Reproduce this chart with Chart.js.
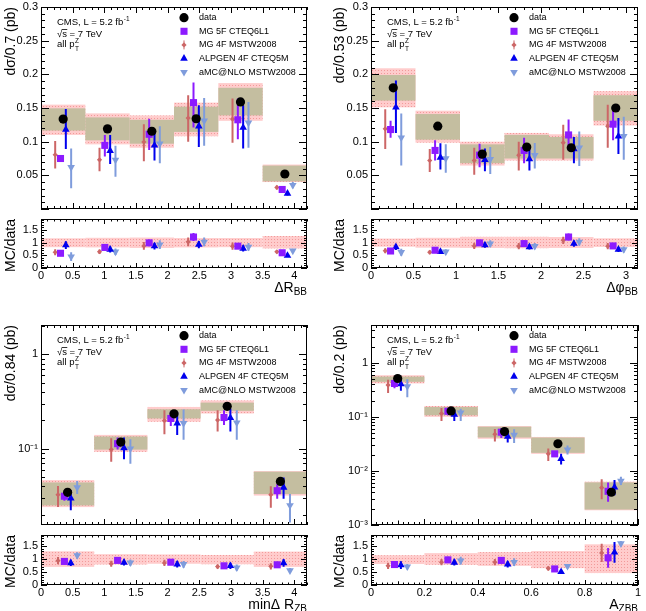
<!DOCTYPE html>
<html>
<head>
<meta charset="utf-8">
<title>Z+bb angular correlations</title>
<script src="https://cdn.jsdelivr.net/npm/chart.js@4.4.1/dist/chart.umd.min.js"></script>
<style>
  body { margin: 0; background: #fff; }
  #wrap { position: relative; width: 646px; height: 611px; overflow: hidden; background: #fff; }
  #wrap canvas { position: absolute; }
</style>
</head>
<body>
<div id="wrap"></div>
<script>
// ---------- ΔR_BB ----------
const dRbbEdges = [0, 0.7, 1.4, 2.1, 2.8, 3.5, 4.2];
const dRbbData  = [0.1335, 0.119, 0.1155, 0.134, 0.159, 0.052];
const dRbbStat  = [[0.1165, 0.1495], [0.102, 0.136], [0.097, 0.1325], [0.1145, 0.152], [0.139, 0.18], [0.041, 0.0645]];
const dRbbTot   = [[0.110, 0.155], [0.096, 0.142], [0.091, 0.139], [0.108, 0.158], [0.131, 0.187], [0.040, 0.066]];
// MC: [value, low, high]
const dRbbMg5f   = [[0.075, 0.071, 0.079], [0.0945, 0.078, 0.11], [0.111, 0.0875, 0.134], [0.158, 0.121, 0.188], [0.1325, 0.1035, 0.164], [0.029, 0.027, 0.031]];
const dRbbMg4f   = [[0.0806, 0.06, 0.101], [0.073, 0.056, 0.091], [0.0995, 0.071, 0.126], [0.135, 0.1, 0.169], [0.1335, 0.0985, 0.164], [0.032, 0.029, 0.035]];
const dRbbAlpgen = [[0.118, 0.089, 0.1485], [0.0865, 0.067, 0.11], [0.0945, 0.072, 0.113], [0.123, 0.092, 0.154], [0.121, 0.09, 0.154], [0.023, 0.02, 0.026]];
const dRbbAmc    = [[0.062, 0.031, 0.09], [0.073, 0.048, 0.094], [0.097, 0.068, 0.123], [0.131, 0.094, 0.165], [0.128, 0.091, 0.159], [0.0355, 0.031, 0.04]];
// ratio MC/data: [value, half error]
const dRbbRMg5f   = [[0.58, 0.05], [0.81, 0.09], [0.99, 0.13], [1.22, 0.16], [0.86, 0.11], [0.60, 0.05]];
const dRbbRMg4f   = [[0.62, 0.12], [0.64, 0.09], [0.87, 0.15], [1.03, 0.17], [0.86, 0.14], [0.64, 0.07]];
const dRbbRAlpgen = [[0.90, 0.15], [0.73, 0.12], [0.86, 0.13], [0.92, 0.14], [0.77, 0.12], [0.49, 0.06]];
const dRbbRAmc    = [[0.45, 0.17], [0.64, 0.13], [0.92, 0.17], [1.03, 0.17], [0.83, 0.15], [0.68, 0.07]];
const dRbbRBand   = [[0.82, 1.17], [0.81, 1.19], [0.79, 1.2], [0.81, 1.18], [0.82, 1.18], [0.77, 1.26]];

// ---------- Δφ_BB ----------
const dPhiEdges = [0, 0.5236, 1.0472, 1.5708, 2.0944, 2.618, 3.1416];
const dPhiData  = [0.180, 0.123, 0.0815, 0.092, 0.091, 0.150];
const dPhiStat  = [[0.161, 0.199], [0.103, 0.141], [0.068, 0.096], [0.075, 0.110], [0.075, 0.107], [0.131, 0.169]];
const dPhiTot   = [[0.151, 0.209], [0.0985, 0.146], [0.0645, 0.1], [0.072, 0.113], [0.072, 0.111], [0.124, 0.175]];
const dPhiMg5f   = [[0.118, 0.106, 0.131], [0.087, 0.072, 0.102], [0.080, 0.062, 0.097], [0.087, 0.068, 0.106], [0.11, 0.087, 0.133], [0.126, 0.102, 0.147]];
const dPhiMg4f   = [[0.119, 0.089, 0.148], [0.072, 0.055, 0.089], [0.072, 0.051, 0.091], [0.080, 0.057, 0.1], [0.0985, 0.073, 0.125], [0.123, 0.091, 0.155]];
const dPhiAlpgen = [[0.151, 0.113, 0.191], [0.0765, 0.0585, 0.0975], [0.073, 0.056, 0.09], [0.074, 0.057, 0.094], [0.089, 0.068, 0.107], [0.108, 0.0815, 0.135]];
const dPhiAmc    = [[0.106, 0.0645, 0.142], [0.075, 0.054, 0.096], [0.074, 0.052, 0.092], [0.080, 0.06, 0.098], [0.091, 0.064, 0.115], [0.108, 0.073, 0.137]];
const dPhiRMg5f   = [[0.67, 0.05], [0.70, 0.06], [0.99, 0.12], [0.96, 0.12], [1.22, 0.14], [0.87, 0.08]];
const dPhiRMg4f   = [[0.68, 0.1], [0.62, 0.08], [0.87, 0.12], [0.86, 0.12], [1.09, 0.14], [0.86, 0.12]];
const dPhiRAlpgen = [[0.83, 0.12], [0.64, 0.08], [0.90, 0.1], [0.83, 0.1], [0.96, 0.12], [0.73, 0.1]];
const dPhiRAmc    = [[0.62, 0.14], [0.64, 0.1], [0.96, 0.13], [0.86, 0.12], [1.03, 0.14], [0.73, 0.12]];
const dPhiRBand   = [[0.84, 1.16], [0.80, 1.19], [0.79, 1.23], [0.78, 1.23], [0.79, 1.22], [0.83, 1.17]];

// ---------- minΔR_ZB ----------
const minDrEdges = [0, 0.84, 1.68, 2.52, 3.36, 4.2];
const minDrData  = [0.0344, 0.1174, 0.234, 0.281, 0.0449];
const minDrStat  = [[0.025, 0.0438], [0.0977, 0.1346], [0.209, 0.262], [0.252, 0.308], [0.033, 0.057]];
const minDrTot   = [[0.024, 0.0464], [0.0925, 0.140], [0.193, 0.277], [0.236, 0.325], [0.0318, 0.0578]];
const minDrMg5f   = [[0.0313, 0.028, 0.0354], [0.113, 0.098, 0.131], [0.209, 0.174, 0.25], [0.214, 0.178, 0.256], [0.0358, 0.0294, 0.042]];
const minDrMg4f   = [[0.0325, 0.024, 0.0403], [0.0977, 0.0727, 0.129], [0.198, 0.142, 0.256], [0.201, 0.152, 0.256], [0.0325, 0.0236, 0.040]];
const minDrAlpgen = [[0.0298, 0.0222, 0.0364], [0.1017, 0.077, 0.131], [0.186, 0.14, 0.246], [0.212, 0.152, 0.266], [0.0388, 0.0294, 0.0493]];
const minDrAmc    = [[0.0388, 0.033, 0.0455], [0.1, 0.0692, 0.126], [0.186, 0.124, 0.26], [0.189, 0.124, 0.256], [0.025, 0.0165, 0.033]];
const minDrRMg5f   = [[0.91, 0.08], [0.95, 0.08], [0.88, 0.1], [0.74, 0.06], [0.78, 0.12]];
const minDrRMg4f   = [[0.94, 0.14], [0.82, 0.12], [0.85, 0.12], [0.71, 0.08], [0.72, 0.12]];
const minDrRAlpgen = [[0.85, 0.12], [0.87, 0.12], [0.80, 0.12], [0.74, 0.12], [0.85, 0.15]];
const minDrRAmc    = [[1.14, 0.12], [0.86, 0.12], [0.80, 0.13], [0.67, 0.12], [0.56, 0.1]];
const minDrRBand   = [[0.70, 1.30], [0.79, 1.19], [0.82, 1.18], [0.80, 1.16], [0.70, 1.29]];

// ---------- A_ZBB ----------
const aZbbEdges = [0, 0.2, 0.4, 0.6, 0.8, 1.0];
const aZbbData  = [0.512, 0.1286, 0.0534, 0.0318, 0.00403];
const aZbbStat  = [[0.445, 0.556], [0.107, 0.152], [0.0415, 0.0658], [0.0216, 0.0415], [0.00193, 0.00614]];
const aZbbTot   = [[0.415, 0.589], [0.1, 0.159], [0.0393, 0.0677], [0.0207, 0.0425], [0.00187, 0.00632]];
const aZbbMg5f   = [[0.415, 0.337, 0.498], [0.127, 0.107, 0.146], [0.052, 0.0405, 0.0615], [0.0207, 0.019, 0.0225], [0.0042, 0.0027, 0.0061]];
const aZbbMg4f   = [[0.387, 0.277, 0.484], [0.115, 0.0834, 0.146], [0.0477, 0.0352, 0.0597], [0.0207, 0.0152, 0.026], [0.0049, 0.003, 0.00705]];
const aZbbAlpgen = [[0.404, 0.305, 0.498], [0.110, 0.0834, 0.136], [0.0434, 0.0337, 0.0534], [0.0168, 0.0132, 0.0207], [0.005, 0.00354, 0.0068]];
const aZbbAmc    = [[0.366, 0.231, 0.498], [0.12, 0.0834, 0.142], [0.0465, 0.0329, 0.059], [0.0248, 0.0201, 0.0294], [0.0065, 0.0055, 0.0078]];
const aZbbRMg5f   = [[0.79, 0.07], [0.97, 0.12], [0.95, 0.12], [0.62, 0.05], [1.05, 0.38]];
const aZbbRMg4f   = [[0.74, 0.12], [0.88, 0.12], [0.88, 0.12], [0.64, 0.08], [1.24, 0.35]];
const aZbbRAlpgen = [[0.77, 0.15], [0.87, 0.12], [0.80, 0.12], [0.51, 0.06], [1.26, 0.4]];
const aZbbRAmc    = [[0.71, 0.1], [0.94, 0.15], [0.88, 0.15], [0.73, 0.08], [1.60, 0.1]];
const aZbbRBand   = [[0.81, 1.15], [0.78, 1.23], [0.74, 1.27], [0.65, 1.31], [0.46, 1.57]];

// ---------- axis ticks ----------
const linYTicks   = [0.05, 0.1, 0.15, 0.2, 0.25, 0.3];
const linYLabels  = ['0.05', '0.1', '0.15', '0.2', '0.25', '0.3'];
const ratioTicks  = [0, 0.5, 1, 1.5];
const ratioLabels = ['0', '0.5', '1', '1.5'];
const dRTicks     = [0, 0.5, 1, 1.5, 2, 2.5, 3, 3.5, 4];
const dRLabels    = ['0', '0.5', '1', '1.5', '2', '2.5', '3', '3.5', '4'];
const dPhiTicks   = [0, 0.5, 1, 1.5, 2, 2.5, 3];
const dPhiLabels  = ['0', '0.5', '1', '1.5', '2', '2.5', '3'];
const aTicks      = [0, 0.2, 0.4, 0.6, 0.8, 1];
const aLabels     = ['0', '0.2', '0.4', '0.6', '0.8', '1'];
const minDrYTicks  = [0.1, 1];
const minDrYLabels = ['10⁻¹', '1'];
const aZbbYTicks   = [0.001, 0.01, 0.1, 1];
const aZbbYLabels  = ['10⁻³', '10⁻²', '10⁻¹', '1'];

const FONT = '"Liberation Sans", Arial, Helvetica, sans-serif';
const COL = { data: '#000000', mg5f: '#8c1aff', mg4f: '#cc6666', alpgen: '#0000ee', amc: '#7f9cdc' };
const MARK = {
  data:   { style: 'circle',   r: 4.6, rot: 0 },
  mg5f:   { style: 'rect',     r: 5,   rot: 0 },
  mg4f:   { style: 'rectRot',  r: 2.6, rot: 0 },
  alpgen: { style: 'triangle', r: 4.4, rot: 0 },
  amc:    { style: 'triangle', r: 4.4, rot: 180 }
};
const SHIFT = { mg4f: -0.18, mg5f: -0.06, alpgen: 0.06, amc: 0.18 };
const LEGEND = [['data', 'data'], ['mg5f', 'MG 5F CTEQ6L1'], ['mg4f', 'MG 4F MSTW2008'],
                ['alpgen', 'ALPGEN 4F CTEQ5M'], ['amc', 'aMC@NLO MSTW2008']];
const KHAKI = '#c4bea0';

function pinkPattern(ctx) {
  const c = document.createElement('canvas');
  c.width = 3; c.height = 3;
  const g = c.getContext('2d');
  g.fillStyle = '#ffcccc'; g.fillRect(0, 0, 3, 3);
  g.fillStyle = '#f29a9a'; g.fillRect(1, 1, 1, 1);
  return ctx.createPattern(c, 'repeat');
}

function marker(ctx, key, x, y) {
  const m = MARK[key], r = m.r;
  ctx.fillStyle = COL[key];
  ctx.beginPath();
  if (m.style === 'circle') ctx.arc(x, y, r, 0, Math.PI * 2);
  else if (m.style === 'rect') { const h = r * Math.SQRT1_2; ctx.rect(x - h, y - h, 2 * h, 2 * h); }
  else if (m.style === 'rectRot') { ctx.moveTo(x, y - r); ctx.lineTo(x + r, y); ctx.lineTo(x, y + r); ctx.lineTo(x - r, y); ctx.closePath(); }
  else {
    const d = m.rot ? -1 : 1;
    ctx.moveTo(x, y - d * r); ctx.lineTo(x + r * 0.866, y + d * r / 2); ctx.lineTo(x - r * 0.866, y + d * r / 2); ctx.closePath();
  }
  ctx.fill();
}

// boxes (stat / total uncertainty) + error bars, under the markers
const binBoxes = {
  id: 'binBoxes',
  beforeDatasetsDraw(chart, args, o) {
    const { ctx, chartArea: a, scales: { x, y } } = chart;
    ctx.save();
    ctx.beginPath(); ctx.rect(a.left, a.top, a.right - a.left, a.bottom - a.top); ctx.clip();
    const box = (i, lo, hi, fill) => {
      const x0 = x.getPixelForValue(o.edges[i]), x1 = x.getPixelForValue(o.edges[i + 1]);
      const y0 = y.getPixelForValue(hi), y1 = y.getPixelForValue(lo);
      ctx.fillStyle = fill;
      ctx.fillRect(x0, y0, x1 - x0, y1 - y0);
    };
    const pink = pinkPattern(ctx);
    o.tot.forEach((r, i) => box(i, r[0], r[1], pink));
    if (o.stat) o.stat.forEach((r, i) => box(i, r[0], r[1], KHAKI));
    ctx.lineWidth = 2;
    chart.data.datasets.forEach((ds, di) => {
      if (!ds.errLo) return;
      const meta = chart.getDatasetMeta(di);
      ctx.strokeStyle = ds.pointBackgroundColor;
      ctx.beginPath();
      meta.data.forEach((pt, i) => {
        ctx.moveTo(pt.x, y.getPixelForValue(ds.errLo[i]));
        ctx.lineTo(pt.x, y.getPixelForValue(ds.errHi[i]));
      });
      ctx.stroke();
    });
    ctx.restore();
  }
};

// ROOT style frame with inner ticks on all four sides
const rootFrame = {
  id: 'rootFrame',
  afterDraw(chart, args, o) {
    const { ctx, chartArea: a, scales: { x, y } } = chart;
    ctx.save();
    ctx.strokeStyle = '#000'; ctx.lineWidth = 1;
    ctx.strokeRect(Math.round(a.left) + 0.5, Math.round(a.top) + 0.5,
                   Math.round(a.right - a.left) - 1, Math.round(a.bottom - a.top) - 1);
    ctx.beginPath();
    const tx = (v, len) => {
      const px = Math.round(x.getPixelForValue(v)) + 0.5;
      ctx.moveTo(px, a.bottom); ctx.lineTo(px, a.bottom - len);
      ctx.moveTo(px, a.top); ctx.lineTo(px, a.top + len);
    };
    const ty = (v, len) => {
      const py = Math.round(y.getPixelForValue(v)) + 0.5;
      ctx.moveTo(a.left, py); ctx.lineTo(a.left + len, py);
      ctx.moveTo(a.right, py); ctx.lineTo(a.right - len, py);
    };
    const near = (v, s) => Math.abs(v / s - Math.round(v / s)) < 1e-6;
    const nx = Math.round((x.max - x.min) / o.xMinor);
    for (let i = 0; i <= nx; i++) {
      const v = x.min + i * o.xMinor;
      if (v > x.max + 1e-9) break;
      let len = o.xMin;
      if (near(v, o.xMajor)) len = o.xMaj;
      else if (o.xMed && near(v, o.xMed)) len = (o.xMaj + o.xMin) / 2;
      tx(v, len);
    }
    if (o.yLog) {
      for (let e = Math.floor(Math.log10(y.min)); e <= Math.ceil(Math.log10(y.max)); e++) {
        for (let m = 1; m <= 9; m++) {
          const v = m * Math.pow(10, e);
          if (v < y.min || v > y.max) continue;
          ty(v, m === 1 ? o.yMaj : o.yMin);
        }
      }
    } else {
      const ny = Math.round((y.max - y.min) / o.yMinor);
      for (let i = 0; i <= ny; i++) {
        const v = y.min + i * o.yMinor;
        ty(v, near(v, o.yMajor) ? o.yMaj : o.yMin);
      }
    }
    ctx.stroke();
    ctx.restore();
  }
};

// titles, CMS label and legend
const panelText = {
  id: 'panelText',
  afterDraw(chart, args, o) {
    const { ctx, chartArea: a } = chart;
    ctx.save();
    ctx.fillStyle = '#000';
    if (o.yTitle) {
      ctx.save();
      ctx.translate(o.yTitleX, a.top);
      ctx.rotate(-Math.PI / 2);
      ctx.font = '14px ' + FONT;
      ctx.textAlign = 'right'; ctx.textBaseline = 'middle';
      ctx.fillText(o.yTitle, 0, 0);
      ctx.restore();
    }
    if (o.xTitle) {
      const [main, sub] = o.xTitle;
      ctx.textAlign = 'left'; ctx.textBaseline = 'alphabetic';
      ctx.font = '10px ' + FONT;
      const ws = ctx.measureText(sub).width;
      ctx.font = '14px ' + FONT;
      const wm = ctx.measureText(main).width;
      const yb = a.bottom + 23.5;
      ctx.fillText(main, a.right - ws - wm, yb);
      ctx.font = '10px ' + FONT;
      ctx.fillText(sub, a.right - ws, yb + 3.8);
    }
    if (o.cms) {
      const x0 = a.left + 16, y0 = a.top;
      ctx.textAlign = 'left'; ctx.textBaseline = 'alphabetic';
      ctx.font = '9.5px ' + FONT;
      let t = 'CMS, L = 5.2 fb';
      ctx.fillText(t, x0, y0 + 18);
      let w = ctx.measureText(t).width;
      ctx.font = '6.5px ' + FONT;
      ctx.fillText('-1', x0 + w + 0.5, y0 + 14);
      ctx.font = '9.5px ' + FONT;
      ctx.fillText('√s = 7 TeV', x0, y0 + 29.5);
      const wr = ctx.measureText('√').width, wsx = ctx.measureText('s').width;
      ctx.fillRect(x0 + wr - 0.5, y0 + 22.2, wsx + 0.8, 0.8);
      t = 'all p';
      ctx.fillText(t, x0, y0 + 40);
      w = ctx.measureText(t).width;
      ctx.font = '6.5px ' + FONT;
      ctx.fillText('Z', x0 + w + 0.5, y0 + 35.5);
      ctx.fillText('T', x0 + w + 0.5, y0 + 43.5);
    }
    if (o.legend) {
      ctx.font = '9px ' + FONT;
      ctx.textAlign = 'left'; ctx.textBaseline = 'middle';
      LEGEND.forEach(([key, label], i) => {
        const yy = a.top + 10.7 + 13.6 * i, xm = a.left + 143;
        if (key === 'mg4f') { ctx.fillStyle = COL[key]; ctx.fillRect(xm - 0.5, yy - 4.5, 1, 9); }
        marker(ctx, key, xm, yy);
        ctx.fillStyle = '#000';
        ctx.fillText(label, a.left + 158, yy);
      });
    }
    ctx.restore();
  }
};

function addCanvas(left, top, w, h) {
  const c = document.createElement('canvas');
  c.width = w; c.height = h;
  c.style.left = left + 'px'; c.style.top = top + 'px';
  c.style.width = w + 'px'; c.style.height = h + 'px';
  document.getElementById('wrap').appendChild(c);
  return c;
}

function pointSet(key, pts) {
  const m = MARK[key];
  return {
    label: key, data: pts, showLine: false,
    pointStyle: m.style, pointRadius: m.r, pointRotation: m.rot, pointHoverRadius: m.r,
    pointBackgroundColor: COL[key], pointBorderColor: COL[key], pointBorderWidth: 0
  };
}

function tickAxis(vals, labels, pad, extra) {
  return Object.assign({
    afterBuildTicks(s) { s.ticks = vals.map(v => ({ value: v })); },
    ticks: { callback: (v, i) => labels[i], font: { family: FONT, size: 11 }, color: '#000',
             autoSkip: false, maxRotation: 0, minRotation: 0, padding: pad },
    grid: { display: false, drawTicks: false },
    border: { display: false }
  }, extra);
}

const ROWS = {
  top:    { main: { top: 0,   h: 214, padT: 7,  padB: 2 }, ratio: { top: 214, h: 86, padT: 4, xH: 32 } },
  bottom: { main: { top: 300, h: 230, padT: 25, padB: 2 }, ratio: { top: 530, h: 81, padT: 5, xH: 26 } }
};
const COLS = {
  left:  { left: 0,   axisW: 41, padR: 16, titleX: 11.5 },
  right: { left: 323, axisW: 48, padR: 8,  titleX: 17.5 }
};

function drawPanel(p) {
  const row = ROWS[p.row], col = COLS[p.col];
  const centers = p.edges.slice(0, -1).map((e, i) => (e + p.edges[i + 1]) / 2);
  const widths = p.edges.slice(0, -1).map((e, i) => p.edges[i + 1] - e);
  const keys = ['mg5f', 'mg4f', 'alpgen', 'amc'];
  const common = { responsive: false, animation: false, devicePixelRatio: 1, events: [] };

  // main distribution
  const mainSets = [pointSet('data', p.data.map((v, i) => ({ x: centers[i], y: v })))];
  keys.forEach(k => {
    const ds = pointSet(k, p.mc[k].map((r, i) => ({ x: centers[i] + SHIFT[k] * widths[i], y: r[0] })));
    ds.errLo = p.mc[k].map(r => r[1]);
    ds.errHi = p.mc[k].map(r => r[2]);
    mainSets.push(ds);
  });
  const mc = addCanvas(col.left, row.main.top, 323, row.main.h);
  new Chart(mc, {
    type: 'scatter',
    data: { datasets: mainSets },
    options: Object.assign({}, common, {
      layout: { padding: { top: row.main.padT, right: col.padR, bottom: row.main.padB, left: 0 } },
      plugins: {
        legend: { display: false }, tooltip: { enabled: false },
        binBoxes: { edges: p.edges, stat: p.stat, tot: p.tot },
        rootFrame: Object.assign({ xMajor: p.xMajor, xMinor: p.xMinor, xMed: p.xMed, xMaj: 6, xMin: 3, yMaj: 8, yMin: 4 }, p.yFrame),
        panelText: { yTitle: p.yTitle, yTitleX: col.titleX, cms: true, legend: true }
      },
      scales: {
        x: { type: 'linear', min: 0, max: p.xMax, ticks: { display: false },
             grid: { display: false, drawTicks: false }, border: { display: false },
             afterFit(s) { s.height = 0; s.paddingLeft = 0; s.paddingRight = 0; } },
        y: tickAxis(p.yTicks, p.yLabels, 3, {
             type: p.yLog ? 'logarithmic' : 'linear', min: p.yMin, max: p.yMax,
             afterFit(s) { s.width = col.axisW; s.paddingTop = 0; s.paddingBottom = 0; } })
      }
    }),
    plugins: [binBoxes, rootFrame, panelText]
  });

  // ratio MC/data
  const ratioSets = [];
  keys.forEach(k => {
    const rr = p.ratio[k];
    const ds = pointSet(k, rr.map((r, i) => ({ x: centers[i] + SHIFT[k] * widths[i], y: r[0] })));
    ds.errLo = rr.map(r => r[0] - r[1]);
    ds.errHi = rr.map(r => r[0] + r[1]);
    ratioSets.push(ds);
  });
  const rc = addCanvas(col.left, row.ratio.top, 323, row.ratio.h);
  new Chart(rc, {
    type: 'scatter',
    data: { datasets: ratioSets },
    options: Object.assign({}, common, {
      layout: { padding: { top: row.ratio.padT, right: col.padR, bottom: 0, left: 0 } },
      plugins: {
        legend: { display: false }, tooltip: { enabled: false },
        binBoxes: { edges: p.edges, tot: p.band },
        rootFrame: { xMajor: p.xMajor, xMinor: p.xMinor, xMed: p.xMed, xMaj: 5, xMin: 2.5,
                     yMajor: 0.5, yMinor: 0.1, yMaj: 6, yMin: 3 },
        panelText: { yTitle: 'MC/data', yTitleX: col.titleX, xTitle: p.xTitle }
      },
      scales: {
        x: tickAxis(p.xTicks, p.xLabels, 1, {
             type: 'linear', min: 0, max: p.xMax,
             afterFit(s) { s.height = row.ratio.xH; s.paddingLeft = 0; s.paddingRight = 0; } }),
        y: tickAxis(ratioTicks, ratioLabels, 3, {
             type: 'linear', min: 0, max: 1.93,
             afterFit(s) { s.width = col.axisW; s.paddingTop = 0; s.paddingBottom = 0; } })
      }
    }),
    plugins: [binBoxes, rootFrame, panelText]
  });
}

drawPanel({
  row: 'top', col: 'left', edges: dRbbEdges, xMax: 4.2, xMajor: 0.5, xMinor: 0.1,
  data: dRbbData, stat: dRbbStat, tot: dRbbTot,
  mc: { mg5f: dRbbMg5f, mg4f: dRbbMg4f, alpgen: dRbbAlpgen, amc: dRbbAmc },
  ratio: { mg5f: dRbbRMg5f, mg4f: dRbbRMg4f, alpgen: dRbbRAlpgen, amc: dRbbRAmc }, band: dRbbRBand,
  yMin: 0, yMax: 0.3, yTicks: linYTicks, yLabels: linYLabels, yFrame: { yMajor: 0.05, yMinor: 0.01 },
  xTicks: dRTicks, xLabels: dRLabels, yTitle: 'dσ/0.7 (pb)', xTitle: ['ΔR', 'BB']
});
drawPanel({
  row: 'top', col: 'right', edges: dPhiEdges, xMax: 3.1416, xMajor: 0.5, xMinor: 0.1,
  data: dPhiData, stat: dPhiStat, tot: dPhiTot,
  mc: { mg5f: dPhiMg5f, mg4f: dPhiMg4f, alpgen: dPhiAlpgen, amc: dPhiAmc },
  ratio: { mg5f: dPhiRMg5f, mg4f: dPhiRMg4f, alpgen: dPhiRAlpgen, amc: dPhiRAmc }, band: dPhiRBand,
  yMin: 0, yMax: 0.3, yTicks: linYTicks, yLabels: linYLabels, yFrame: { yMajor: 0.05, yMinor: 0.01 },
  xTicks: dPhiTicks, xLabels: dPhiLabels, yTitle: 'dσ/0.53 (pb)', xTitle: ['Δφ', 'BB']
});
drawPanel({
  row: 'bottom', col: 'left', edges: minDrEdges, xMax: 4.2, xMajor: 0.5, xMinor: 0.1,
  data: minDrData, stat: minDrStat, tot: minDrTot,
  mc: { mg5f: minDrMg5f, mg4f: minDrMg4f, alpgen: minDrAlpgen, amc: minDrAmc },
  ratio: { mg5f: minDrRMg5f, mg4f: minDrRMg4f, alpgen: minDrRAlpgen, amc: minDrRAmc }, band: minDrRBand,
  yLog: true, yMin: 0.0155, yMax: 2.05, yTicks: minDrYTicks, yLabels: minDrYLabels, yFrame: { yLog: true },
  xTicks: dRTicks, xLabels: dRLabels, yTitle: 'dσ/0.84 (pb)', xTitle: ['minΔ R', 'ZB']
});
drawPanel({
  row: 'bottom', col: 'right', edges: aZbbEdges, xMax: 1, xMajor: 0.2, xMed: 0.1, xMinor: 0.02,
  data: aZbbData, stat: aZbbStat, tot: aZbbTot,
  mc: { mg5f: aZbbMg5f, mg4f: aZbbMg4f, alpgen: aZbbAlpgen, amc: aZbbAmc },
  ratio: { mg5f: aZbbRMg5f, mg4f: aZbbRMg4f, alpgen: aZbbRAlpgen, amc: aZbbRAmc }, band: aZbbRBand,
  yLog: true, yMin: 0.001, yMax: 5, yTicks: aZbbYTicks, yLabels: aZbbYLabels, yFrame: { yLog: true },
  xTicks: aTicks, xLabels: aLabels, yTitle: 'dσ/0.2 (pb)', xTitle: ['A', 'ZBB']
});
</script>
</body>
</html>
